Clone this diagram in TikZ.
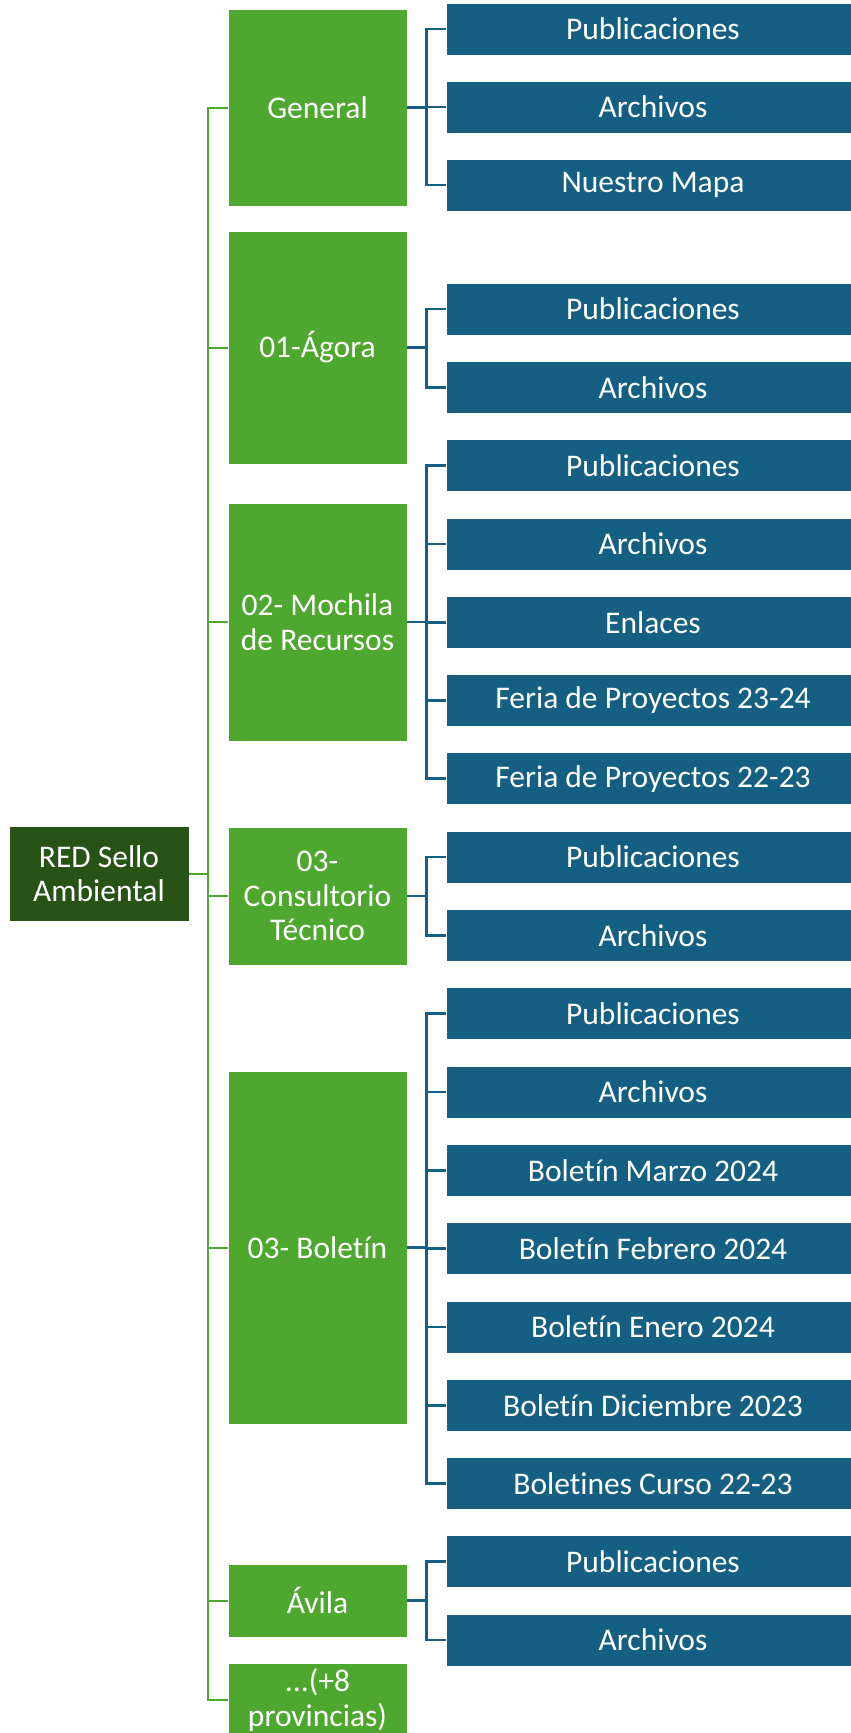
\documentclass[tikz,border=0pt]{standalone}
\usepackage{fontspec}
\setmainfont[RawFeature={-liga,-clig,-dlig}]{Carlito}
\usepackage{tikz}
\definecolor{ramagreen}{HTML}{4EA72E}
\definecolor{raizgreen}{HTML}{275317}
\definecolor{hojablue}{HTML}{156082}
\tikzset{
	raiz/.style={fill=raizgreen, draw=white, line width=0.8pt, text=white, align=center, minimum width=180pt, minimum height=95pt, inner sep=0pt},
	rama/.style={fill=ramagreen, draw=white, line width=0.8pt, text=white, align=center, minimum width=179pt, inner sep=0pt},
	hoja/.style={fill=hojablue, draw=white, line width=0.8pt, text=white, minimum width=414pt, minimum height=52pt, inner sep=0pt},
	linverde/.style={draw=ramagreen, line width=2pt},
	linazul/.style={draw=hojablue, line width=2.7pt}
}

\begin{document}
\begin{tikzpicture}[x=1pt, y=-1pt, font=\fontsize{31.5}{34.6}\selectfont]
			%%%%% START %%%%%
			\useasboundingbox (0, 0) rectangle (851, 1733);
			\clip (0, 0) rectangle (851, 1733);
			
			\node[raiz] (red) at (99, 873.5) {RED Sello\\Ambiental};
			
			\node[rama, minimum height=197pt] (general) at (317.5, 107.5) {General};
			\node[rama, minimum height=233pt] (agora) at (317.5, 347.5) {01-Ágora};
			\node[rama, minimum height=238pt] (mochila) at (317.5, 622) {02- Mochila\\de Recursos};
			\node[rama, minimum height=138pt] (consultorio) at (317.5, 896) {03-\\Consultorio\\Técnico};
			\node[rama, minimum height=353pt] (boletin) at (317.5, 1247.5) {03- Boletín};
			\node[rama, minimum height=73pt] (avila) at (317.5, 1600.5) {Ávila};
			\node[rama, minimum height=74pt] (mas) at (317.5, 1700) {...(+8\\provincias)};
			
			\node[hoja] (gen-pub) at (653, 29) {Publicaciones};
			\node[hoja] (gen-arc) at (653, 107) {Archivos};
			\node[hoja] (gen-map) at (653, 185) {Nuestro Mapa};
			
			\node[hoja] (ago-pub) at (653, 309) {Publicaciones};
			\node[hoja] (ago-arc) at (653, 387.3) {Archivos};
			
			\node[hoja] (moc-pub) at (653, 465.6) {Publicaciones};
			\node[hoja] (moc-arc) at (653, 543.9) {Archivos};
			\node[hoja] (moc-enl) at (653, 622.2) {Enlaces};
			\node[hoja] (moc-f24) at (653, 700.5) {Feria de Proyectos 23-24};
			\node[hoja] (moc-f23) at (653, 778.8) {Feria de Proyectos 22-23};
			
			\node[hoja] (con-pub) at (653, 857.1) {Publicaciones};
			\node[hoja] (con-arc) at (653, 935.4) {Archivos};
			
			\node[hoja] (bol-pub) at (653, 1013.7) {Publicaciones};
			\node[hoja] (bol-arc) at (653, 1092) {Archivos};
			\node[hoja] (bol-mar) at (653, 1170.3) {Boletín Marzo 2024};
			\node[hoja] (bol-feb) at (653, 1248.6) {Boletín Febrero 2024};
			\node[hoja] (bol-ene) at (653, 1326.9) {Boletín Enero 2024};
			\node[hoja] (bol-dic) at (653, 1405.2) {Boletín Diciembre 2023};
			\node[hoja] (bol-cur) at (653, 1483.5) {Boletines Curso 22-23};
			
			\node[hoja] (avi-pub) at (653, 1561.8) {Publicaciones};
			\node[hoja] (avi-arc) at (653, 1640.1) {Archivos};
			
			% tronco verde
			\draw[linverde] (red.east) -- ++(19, 0) |- (general.west);
			\draw[linverde] (red.east) -- ++(19, 0) |- (agora.west);
			\draw[linverde] (red.east) -- ++(19, 0) |- (mochila.west);
			\draw[linverde] (red.east) -- ++(19, 0) |- (consultorio.west);
			\draw[linverde] (red.east) -- ++(19, 0) |- (boletin.west);
			\draw[linverde] (red.east) -- ++(19, 0) |- (avila.west);
			\draw[linverde] (red.east) -- ++(19, 0) |- (mas.west);
			
			% ramas azules
			\draw[linazul] (general.east) -- ++(19, 0) |- (gen-pub.west);
			\draw[linazul] (general.east) -- ++(19, 0) |- (gen-arc.west);
			\draw[linazul] (general.east) -- ++(19, 0) |- (gen-map.west);
			
			\draw[linazul] (agora.east) -- ++(19, 0) |- (ago-pub.west);
			\draw[linazul] (agora.east) -- ++(19, 0) |- (ago-arc.west);
			
			\draw[linazul] (mochila.east) -- ++(19, 0) |- (moc-pub.west);
			\draw[linazul] (mochila.east) -- ++(19, 0) |- (moc-arc.west);
			\draw[linazul] (mochila.east) -- ++(19, 0) |- (moc-enl.west);
			\draw[linazul] (mochila.east) -- ++(19, 0) |- (moc-f24.west);
			\draw[linazul] (mochila.east) -- ++(19, 0) |- (moc-f23.west);
			
			\draw[linazul] (consultorio.east) -- ++(19, 0) |- (con-pub.west);
			\draw[linazul] (consultorio.east) -- ++(19, 0) |- (con-arc.west);
			
			\draw[linazul] (boletin.east) -- ++(19, 0) |- (bol-pub.west);
			\draw[linazul] (boletin.east) -- ++(19, 0) |- (bol-arc.west);
			\draw[linazul] (boletin.east) -- ++(19, 0) |- (bol-mar.west);
			\draw[linazul] (boletin.east) -- ++(19, 0) |- (bol-feb.west);
			\draw[linazul] (boletin.east) -- ++(19, 0) |- (bol-ene.west);
			\draw[linazul] (boletin.east) -- ++(19, 0) |- (bol-dic.west);
			\draw[linazul] (boletin.east) -- ++(19, 0) |- (bol-cur.west);
			
			\draw[linazul] (avila.east) -- ++(19, 0) |- (avi-pub.west);
			\draw[linazul] (avila.east) -- ++(19, 0) |- (avi-arc.west);
			
			%%%%% END %%%%%
		\end{tikzpicture}
\end{document}
